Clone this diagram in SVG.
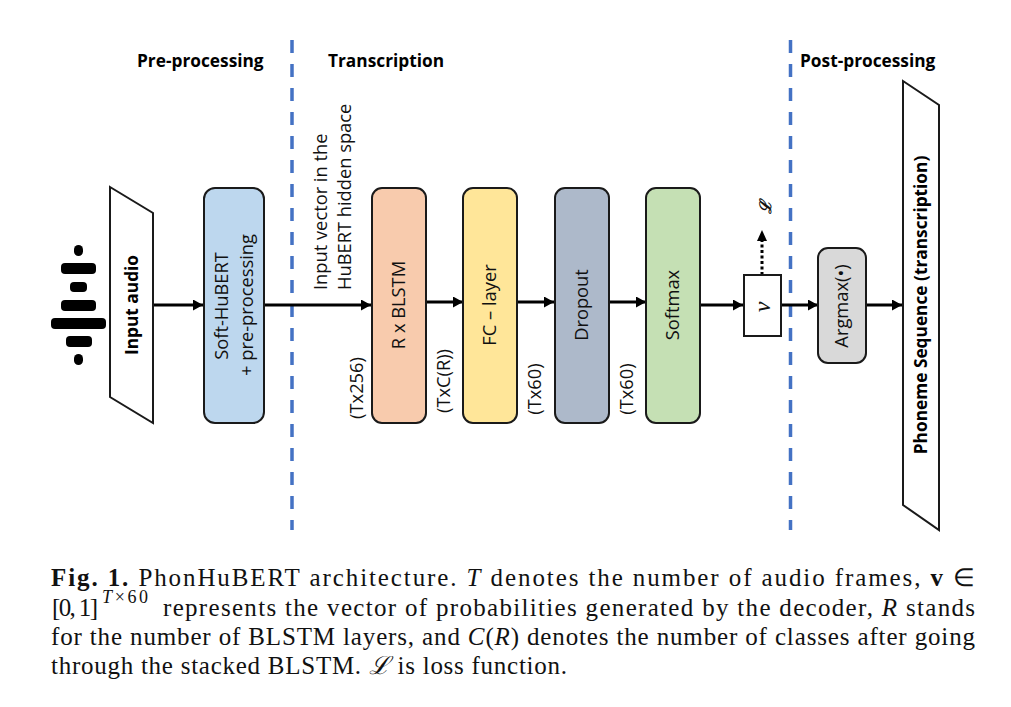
<svg xmlns="http://www.w3.org/2000/svg" width="1011" height="707" viewBox="0 0 1011 707">
<style>
.s{font-family:"Open Sans","Noto Sans",sans-serif;font-size:18.300px;fill:#111}
.b{font-weight:700;fill:#000;font-size:17.300px}
.m{text-anchor:middle}
.node{stroke:#1a1a1a;stroke-width:2}
.c{stroke:#000;stroke-width:3.200;fill:none;marker-end:url(#a)}
.d{stroke:#4472c4;stroke-width:3.500;stroke-dasharray:13 11;fill:none}
.t{font-family:"Liberation Serif","Times New Roman",serif;font-size:25px;fill:#111}
.i{font-style:italic}
.bar{fill:#000}
</style>
<defs><marker id="a" markerUnits="userSpaceOnUse" markerWidth="11" markerHeight="11" refX="10" refY="5.5" orient="auto"><path d="M0 0L10 5.5L0 11Z" fill="#000"/></marker></defs>
<rect width="1011" height="707" fill="#fff"/>
<g id="dividers"><path class="d" d="M292 40V530"/><path class="d" d="M790.500 40V530"/></g>
<g id="headers">
<text class="s b" x="137" y="66.500">Pre-processing</text>
<text class="s b" x="328" y="66.500">Transcription</text>
<text class="s b" x="800" y="66.500">Post-processing</text>
</g>
<g id="waveform">
<rect class="bar" x="74" y="245" width="9" height="11" rx="4.500"/>
<rect class="bar" x="61" y="263" width="35" height="11" rx="4"/>
<rect class="bar" x="70" y="282" width="17" height="10" rx="4"/>
<rect class="bar" x="61" y="300" width="35" height="11" rx="4"/>
<rect class="bar" x="51" y="318" width="55" height="11" rx="4"/>
<rect class="bar" x="66" y="336" width="26" height="11" rx="4"/>
<rect class="bar" x="74" y="354" width="9" height="11" rx="4.500"/>
</g>
<g id="connectors">
<path class="c" d="M153 305H203"/>
<path class="c" d="M264 305H371"/>
<path class="c" d="M426 302H463"/>
<path class="c" d="M517 302H554"/>
<path class="c" d="M609 302H646"/>
<path class="c" d="M700 305H743"/>
<path class="c" d="M781 305H818"/>
<path class="c" d="M866 305H902"/>
<path d="M762 275V240" stroke="#000" stroke-width="3" stroke-dasharray="3 2.500" fill="none"/>
<path d="M762 230L767 241H757Z" fill="#000"/>
</g>
<g id="input-audio">
<path class="node" fill="#fff" d="M110 187L153 213V423L110 397Z"/>
<text class="s b m" transform="translate(138 305) rotate(-90)">Input audio</text>
</g>
<g id="soft-hubert">
<rect class="node" x="204" y="188" width="60" height="235" rx="11" fill="#bdd7ee"/>
<text class="s m" transform="translate(228 306) rotate(-90)">Soft-HuBERT</text>
<text class="s m" transform="translate(253 305) rotate(-90)">+ pre-processing</text>
</g>
<g id="hidden-label">
<text class="s" transform="translate(327 290) rotate(-90)">Input vector in the</text>
<text class="s" transform="translate(351 290) rotate(-90)">HuBERT hidden space</text>
</g>
<g id="blstm">
<rect class="node" x="372" y="188" width="54" height="235" rx="10" fill="#f8cbad"/>
<text class="s m" transform="translate(405 305) rotate(-90)">R x BLSTM</text>
<text class="s m" transform="translate(363 388) rotate(-90)">(Tx256)</text>
</g>
<g id="fc">
<rect class="node" x="463" y="188" width="54" height="235" rx="10" fill="#ffe699"/>
<text class="s m" transform="translate(450 381) rotate(-90)">(TxC(R))</text>
<text class="s m" transform="translate(496 305) rotate(-90)">FC – layer</text>
</g>
<g id="dropout">
<rect class="node" x="555" y="188" width="54" height="235" rx="10" fill="#adb9ca"/>
<text class="s m" transform="translate(588 305) rotate(-90)">Dropout</text>
<text class="s m" transform="translate(541 389) rotate(-90)">(Tx60)</text>
</g>
<g id="softmax">
<rect class="node" x="646" y="188" width="54" height="235" rx="10" fill="#c5e0b4"/>
<text class="s m" transform="translate(679 305) rotate(-90)">Softmax</text>
<text class="s m" transform="translate(633 389) rotate(-90)">(Tx60)</text>
</g>
<g id="v">
<rect class="node" x="744" y="275" width="37" height="61" fill="#fff"/>
<text class="m" font-family="'Liberation Serif',serif" font-style="italic" font-size="24" fill="#111" transform="translate(770 307) rotate(-90)">v</text>
</g>
<text class="m" font-family="'Liberation Serif',serif" font-style="italic" font-weight="700" font-size="16" fill="#111" transform="translate(771 207) rotate(-90)">ℒ</text>
<g id="argmax">
<rect class="node" x="818" y="248" width="48" height="115" rx="10" fill="#d9d9d9"/>
<text class="s m" transform="translate(848 306) rotate(-90)">Argmax(•)</text>
</g>
<g id="phoneme">
<path class="node" fill="#fff" d="M903 81L939 105V530L903 505Z"/>
<text class="s b m" transform="translate(927 305) rotate(-90)">Phoneme Sequence (transcription)</text>
</g>
<g id="caption">
<text class="t" x="51" y="586" textLength="924" lengthAdjust="spacing"><tspan font-weight="700">Fig. 1.</tspan> PhonHuBERT architecture. <tspan class="i">T</tspan> denotes the number of audio frames, <tspan font-weight="700">v</tspan> ∈</text>
<text class="t" x="52" y="616" textLength="46" lengthAdjust="spacing">[0, 1]</text>
<text class="t" x="102" y="603" textLength="46" lengthAdjust="spacing" style="font-size:18px"><tspan class="i">T</tspan>×60</text>
<text class="t" x="163" y="616" textLength="812" lengthAdjust="spacing">represents the vector of probabilities generated by the decoder, <tspan class="i">R</tspan> stands</text>
<text class="t" x="51" y="645" textLength="924" lengthAdjust="spacing">for the number of BLSTM layers, and <tspan class="i">C</tspan>(<tspan class="i">R</tspan>) denotes the number of classes after going</text>
<text class="t" x="51" y="674" textLength="516" lengthAdjust="spacing">through the stacked BLSTM. <tspan class="i">ℒ</tspan> is loss function.</text>
</g>
</svg>
